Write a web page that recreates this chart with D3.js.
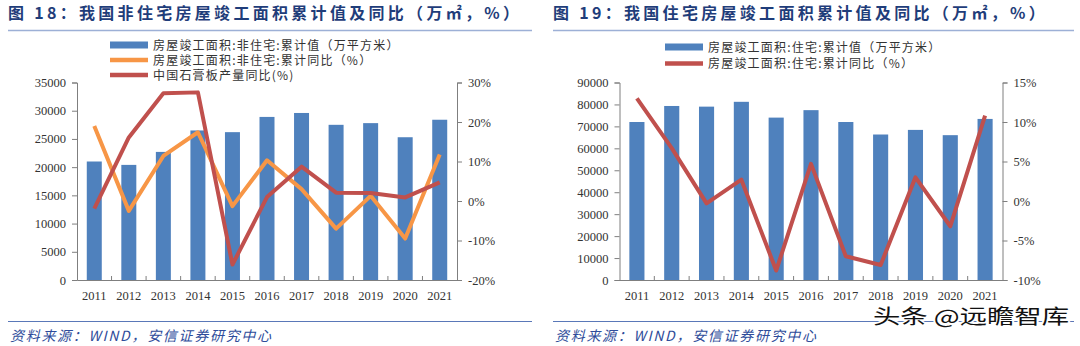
<!DOCTYPE html>
<html><head><meta charset="utf-8">
<script src="https://cdn.jsdelivr.net/npm/d3@7"></script>
<style>
body{margin:0;background:#fff;}
svg{display:block;}
</style></head>
<body><svg id="c" width="1080" height="346"></svg>
<script>
const years = ["2011","2012","2013","2014","2015","2016","2017","2018","2019","2020","2021"];
// Figure 18: non-residential
const nonResArea = [21000,20400,22700,26500,26200,28900,29600,27500,27800,25300,28400];
const nonResYoY = [19.0,-2.5,11.4,17.4,-1.3,10.3,3.0,-7.0,1.3,-9.5,11.8];
const gypsumYoY = [-1.9,16.1,27.3,27.5,-16.1,1.0,8.7,2.1,2.0,0.9,4.7];
// Figure 19: residential
const resArea = [72000,79300,79000,81200,74000,77400,72000,66300,68400,66000,73400];
const resYoY = [13.0,6.7,-0.3,2.7,-8.8,4.7,-7.0,-8.1,3.0,-3.2,10.8];

const leftTicks18 = [0,5000,10000,15000,20000,25000,30000,35000];
const rightTicks18 = [-20,-10,0,10,20,30];
const leftTicks19 = [0,10000,20000,30000,40000,50000,60000,70000,80000,90000];
const rightTicks19 = [-10,-5,0,5,10,15];

const title18 = "图 18：我国非住宅房屋竣工面积累计值及同比（万㎡，%）";
const title19 = "图 19：我国住宅房屋竣工面积累计值及同比（万㎡，%）";
const legend18 = ["房屋竣工面积:非住宅:累计值（万平方米）","房屋竣工面积:非住宅:累计同比（%）","中国石膏板产量同比(%)"];
const legend19 = ["房屋竣工面积:住宅:累计值（万平方米）","房屋竣工面积:住宅:累计同比（%）"];
const sourceText = "资料来源：WIND，安信证券研究中心";

const BLUE="#4F81BD", ORANGE="#F79646", RED="#C0504D";
const svg = d3.select("#c");
const serif = "'Liberation Serif','DejaVu Serif',serif";
const cjk = "'Noto Sans CJK SC','Noto Sans',sans-serif";

function panel(o){
  const g = svg.append("g");
  // title
  g.append("text").attr("x",o.tx).attr("y",19)
    .attr("font-family","'Noto Sans CJK SC',sans-serif").attr("font-weight","bold")
    .attr("font-size",16).attr("letter-spacing",o.tls).attr("fill","#1F3D7A").text(o.title);
  g.append("line").attr("x1",o.lx1).attr("x2",o.lx2).attr("y1",30.5).attr("y2",30.5)
    .attr("stroke","#9DB0D6").attr("stroke-width",1.5);
  // source
  g.append("line").attr("x1",o.lx1).attr("x2",o.lx2).attr("y1",321.5).attr("y2",321.5)
    .attr("stroke","#5A78B8").attr("stroke-width",1);
  g.append("text").attr("x",o.tx+2).attr("y",341).attr("font-family",cjk)
    .attr("font-style","italic").attr("font-size",14).attr("letter-spacing",1.7)
    .attr("fill","#2E4C9A").text(sourceText);

  const x = d3.scaleBand().domain(years).range([o.x0,o.x1]).paddingInner(0.566).paddingOuter(0.283);
  const yL = d3.scaleLinear().domain([0,o.lmax]).range([280,82.5]);
  const yR = d3.scaleLinear().domain([o.rmin,o.rmax]).range([280,82.5]);

  // bars
  g.append("g").selectAll("rect").data(o.bars).join("rect")
    .attr("x",(d,i)=>x(years[i])).attr("width",x.bandwidth())
    .attr("y",d=>yL(d)).attr("height",d=>yL(0)-yL(d)).attr("fill",BLUE);

  // axes
  const axL = g.append("g").attr("transform",`translate(${o.x0},0)`)
    .call(d3.axisLeft(yL).tickValues(o.lt).tickSize(5).tickPadding(6).tickFormat(d3.format("d")));
  const axR = g.append("g").attr("transform",`translate(${o.x1},0)`)
    .call(d3.axisRight(yR).tickValues(o.rt).tickSize(5).tickPadding(6).tickFormat(d=>d+"%"));
  const axB = g.append("g").attr("transform",`translate(0,280)`)
    .call(d3.axisBottom(x).tickSize(0).tickPadding(11));
  [axL,axR,axB].forEach(a=>{
    a.selectAll("path.domain").attr("stroke","#7F7F7F");
    a.selectAll(".tick line").attr("stroke","#7F7F7F");
    a.selectAll("text").attr("font-family",serif).attr("font-size",12.5).attr("fill","#333");
  });
  // category boundary ticks (inward)
  const step = x.step();
  g.append("g").selectAll("line").data(years.slice(1)).join("line")
    .attr("x1",d=>x(d)-step*x.paddingInner()/2).attr("x2",d=>x(d)-step*x.paddingInner()/2)
    .attr("y1",280).attr("y2",276).attr("stroke","#7F7F7F");

  // lines
  const line = d3.line().x((d,i)=>x(years[i])+x.bandwidth()/2).y(d=>yR(d));
  o.lines.forEach(L=>{
    g.append("path").attr("d",line(L.data)).attr("fill","none")
      .attr("stroke",L.color).attr("stroke-width",4).attr("stroke-linejoin","round");
  });

  // legend
  o.legend.forEach((t,i)=>{
    const yy = o.legY + i*o.legDy;
    if(i===0){
      g.append("rect").attr("x",o.legX).attr("y",yy-3.5).attr("width",38).attr("height",7).attr("fill",BLUE);
    } else {
      g.append("line").attr("x1",o.legX).attr("x2",o.legX+38).attr("y1",yy).attr("y2",yy)
        .attr("stroke",o.lines[i-1].color).attr("stroke-width",4.5);
    }
    g.append("text").attr("x",o.legX+43).attr("y",yy+4.5).attr("font-family",cjk)
      .attr("font-size",12).attr("letter-spacing",1.2).attr("fill","#333").text(t);
  });
}

panel({title:title18,tx:8,tls:3.3,lx1:8,lx2:532,x0:77,x1:457,lmax:35000,rmin:-20,rmax:30,
  lt:leftTicks18,rt:rightTicks18,bars:nonResArea,
  lines:[{data:nonResYoY,color:ORANGE},{data:gypsumYoY,color:RED}],
  legend:legend18,legX:110,legY:45,legDy:15});
panel({title:title19,tx:553,tls:3.3,lx1:553,lx2:1074,x0:619.5,x1:1002.5,lmax:90000,rmin:-10,rmax:15,
  lt:leftTicks19,rt:rightTicks19,bars:resArea,
  lines:[{data:resYoY,color:RED}],
  legend:legend19,legX:665,legY:47,legDy:16.5});

// watermark
svg.append("text").attr("x",873).attr("y",324).attr("font-family",cjk).attr("font-size",20)
  .attr("textLength",196).attr("lengthAdjust","spacingAndGlyphs")
  .attr("fill","#111").attr("stroke","#fff").attr("stroke-width",3).attr("paint-order","stroke")
  .text("头条 @远瞻智库");
</script></body></html>
